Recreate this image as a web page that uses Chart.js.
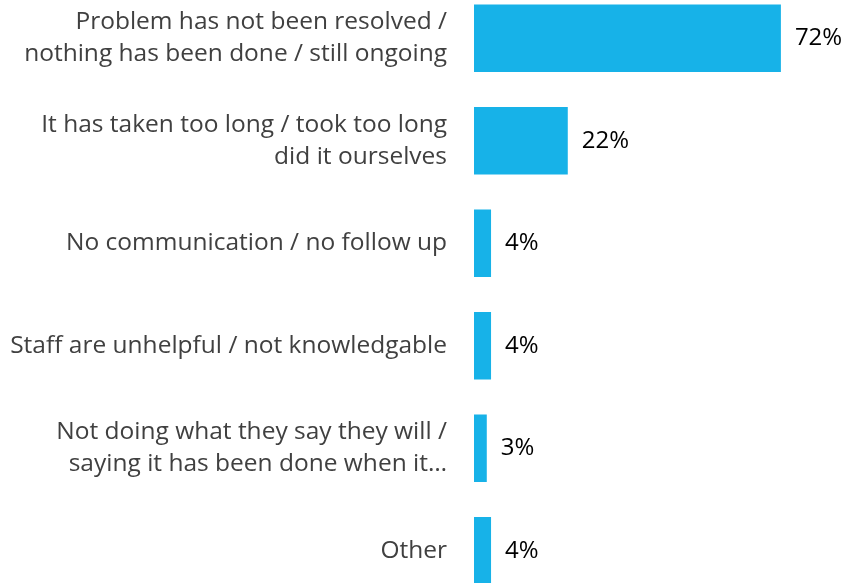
<!DOCTYPE html>
<html>
<head>
<meta charset="utf-8">
<script src="https://cdn.jsdelivr.net/npm/chart.js@4/dist/chart.umd.min.js"></script>
<style>
    html, body { margin: 0; padding: 0; background: #ffffff; overflow: hidden; }
    #wrap { position: absolute; left: 0; top: -13px; width: 848px; height: 615px; }
</style>
</head>
<body>
<div id="wrap"><canvas id="grafico"></canvas></div>
<script>
const categorias = [
    ["Problem has not been resolved /", "nothing has been done / still ongoing"],
    ["It has taken too long / took too long", "did it ourselves"],
    "No communication / no follow up",
    "Staff are unhelpful / not knowledgable",
    ["Not doing what they say they will /", "saying it has been done when it\u2026"],
    "Other"
];
const valores = [72, 22, 4, 4, 3, 4];

const rotulosValor = {
    id: "rotulosValor",
    afterDatasetsDraw(chart) {
        const ctx = chart.ctx;
        const meta = chart.getDatasetMeta(0);
        ctx.save();
        ctx.font = "24px 'Open Sans'";
        ctx.fillStyle = "#000000";
        ctx.textAlign = "left";
        ctx.textBaseline = "middle";
        meta.data.forEach((barra, i) => {
            ctx.fillText(valores[i] + "%", barra.x + 14, barra.y);
        });
        ctx.restore();
    }
};

const ctx = document.getElementById("grafico").getContext("2d");

new Chart(ctx, {
    type: "bar",
    data: {
        labels: categorias,
        datasets: [{
            data: valores,
            backgroundColor: "#17B2E8",
            barPercentage: 0.66,
            categoryPercentage: 1
        }]
    },
    options: {
        indexAxis: "y",
        responsive: true,
        maintainAspectRatio: false,
        animation: false,
        layout: {
            padding: { left: 0, right: 33, top: 0, bottom: 0 }
        },
        scales: {
            x: {
                display: false,
                min: 0,
                max: 80
            },
            y: {
                grid: { display: false, drawTicks: false },
                border: { display: false },
                afterFit(scale) {
                    scale.width = 474;
                    scale.paddingTop = 0;
                    scale.paddingBottom = 0;
                },
                ticks: {
                    padding: 27,
                    color: "#404040",
                    font: { size: 24.5, family: "Open Sans", lineHeight: 1.3 }
                }
            }
        },
        plugins: {
            legend: { display: false },
            tooltip: { enabled: false }
        }
    },
    plugins: [rotulosValor]
});
</script>
</body>
</html>
